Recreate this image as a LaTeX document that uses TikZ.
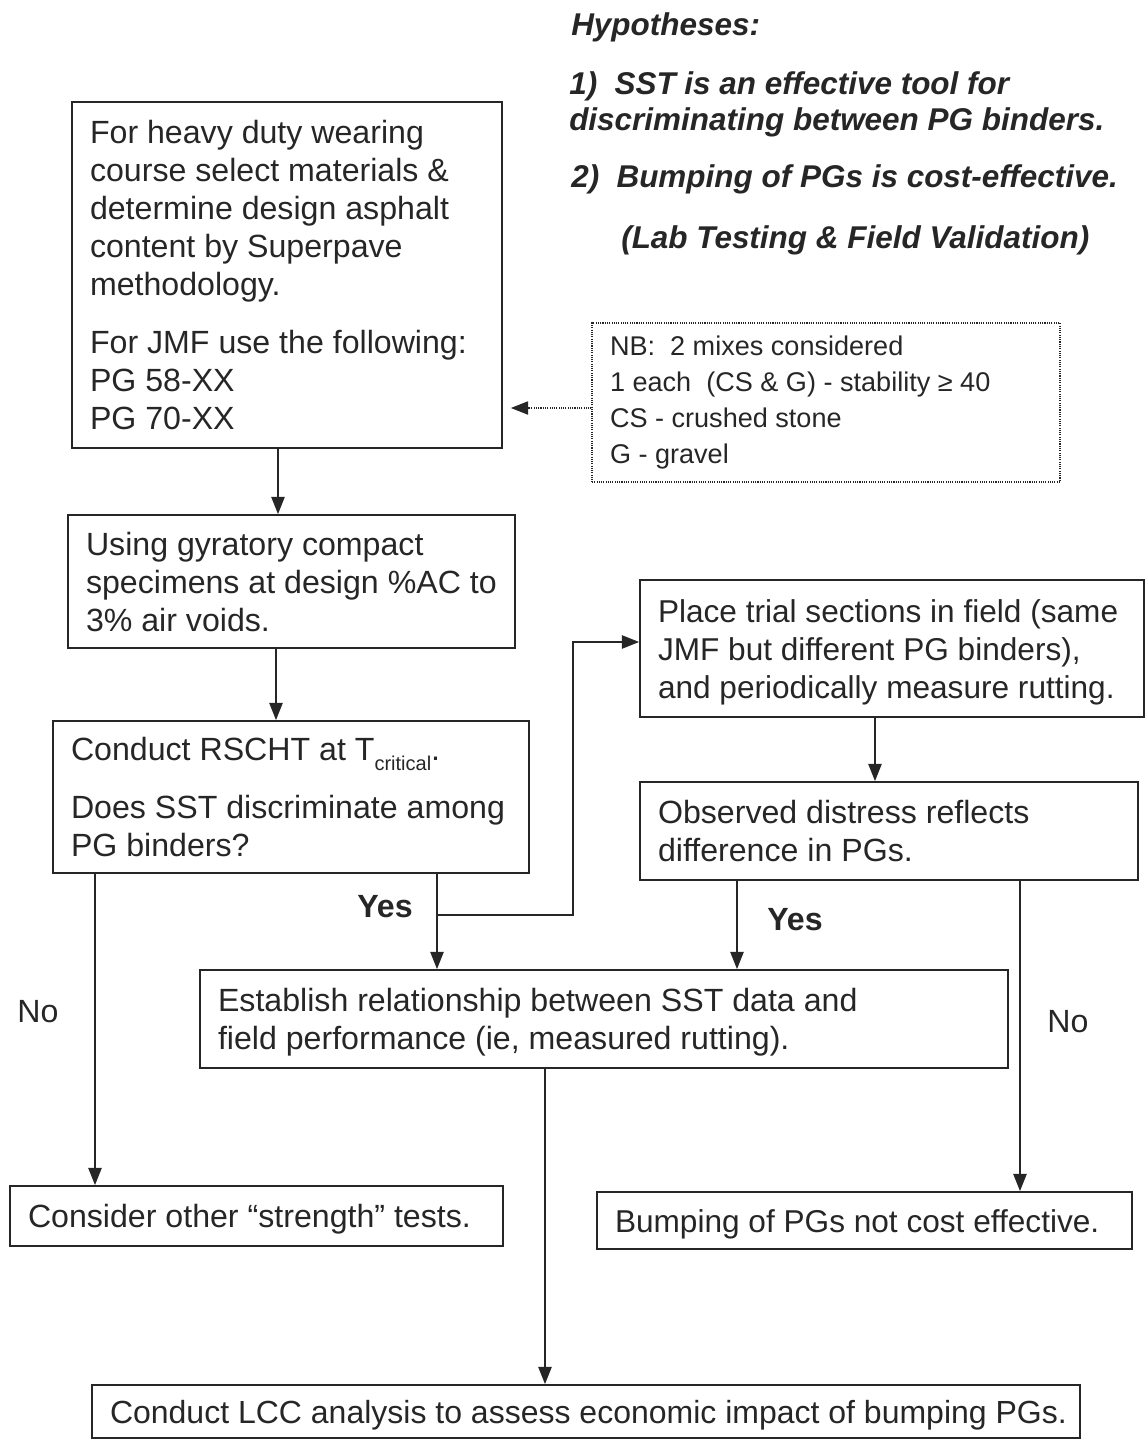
\documentclass[tikz,border=0pt]{standalone}
\usepackage{fontspec}
\setmainfont{Liberation Sans}
\usetikzlibrary{arrows.meta,calc}
\definecolor{ink}{HTML}{262626}
\newcommand\boxlines[2]{\raisebox{-3pt}[\height][\depth]{\makebox[#1][l]{\begin{tabular}{@{}l@{}}#2\end{tabular}}}}
\newcommand\nblines[2]{\makebox[#1][l]{\begin{tabular}{@{}l@{}}#2\end{tabular}}}
\begin{document}
\begin{tikzpicture}[x=0.75pt,y=-0.75pt,
  every node/.style={text=ink},
  box/.style={draw=ink, line width=1.3pt, inner xsep=13.5pt, inner ysep=0pt,
    font=\fontsize{24.1}{28.5}\selectfont},
  narrowfont/.style={font=\fontsize{23.7}{28.5}\selectfont},
  nbbox/.style={draw=ink, line width=0.9pt, dash pattern=on 0.8pt off 0.9pt,
    inner xsep=13.5pt, inner ysep=0pt, font=\fontsize{20.3}{27}\selectfont},
  arr/.style={draw=ink, line width=1.3pt, -{Triangle[length=13pt,width=10pt]}},
  lbl/.style={font=\fontsize{24.1}{28.5}\selectfont, inner sep=0pt},
  lblb/.style={font=\fontsize{24.1}{28.5}\selectfont\bfseries, inner sep=0pt},
  hyp/.style={font=\fontsize{23.6}{27}\selectfont\bfseries\itshape, inner sep=0pt, anchor=west, align=left},
]
\useasboundingbox (0,0) rectangle (1146,1439);

% hypotheses
\node[hyp] (h0) at (571,27) {Hypotheses:};
\node[hyp] (h1) at (569,104) {1)\hspace{0.55em}SST is an effective tool for\\discriminating between PG binders.};
\node[hyp] (h2) at (571,179) {2)\hspace{0.55em}Bumping of PGs is cost-effective.};
\node[hyp] (h3) at (621,240) {(Lab Testing \& Field Validation)};

% boxes
\node[box, minimum width=322.5pt, minimum height=259.5pt] (heavy) at (287,275)
  {\boxlines{295.5pt}{For heavy duty wearing\\course select materials \&\\determine design asphalt\\content by Superpave\\methodology.\\[15pt]For JMF use the following:\\PG 58-XX\\PG 70-XX}};
\node[nbbox, minimum width=351pt, minimum height=119.25pt] (nb) at (826,402.5)
  {\nblines{324pt}{NB:\ \ 2 mixes considered\\1 each\ \ (CS \& G) - stability ≥ 40\\CS - crushed stone\\G - gravel}};
\node[box, minimum width=335.25pt, minimum height=99.75pt] (gyr) at (291.5,581.5)
  {\boxlines{308.25pt}{Using gyratory compact\\specimens at design \%AC to\\3\% air voids.}};
\node[box, minimum width=357pt, minimum height=114pt] (rscht) at (291,797)
  {\boxlines{330pt}{Conduct RSCHT at T\raisebox{-7.5pt}{\fontsize{15}{15}\selectfont critical}.\\[15pt]Does SST discriminate among\\PG binders?}};
\node[box, narrowfont, minimum width=378pt, minimum height=102.75pt] (place) at (892,648.5)
  {\boxlines{351pt}{Place trial sections in field (same\\JMF but different PG binders),\\and periodically measure rutting.}};
\node[box, minimum width=373.5pt, minimum height=73.5pt] (observed) at (889,831)
  {\boxlines{346.5pt}{Observed distress reflects\\difference in PGs.}};
\node[box, minimum width=606pt, minimum height=73.5pt] (establish) at (604,1019)
  {\boxlines{579pt}{Establish relationship between SST data and\\field performance (ie, measured rutting).}};
\node[box, minimum width=369.75pt, minimum height=45pt] (consider) at (256.5,1216)
  {\boxlines{342.75pt}{Consider other “strength” tests.}};
\node[box, narrowfont, minimum width=401.25pt, minimum height=42.75pt] (bumping) at (864.5,1220.5)
  {\boxlines{374.25pt}{Bumping of PGs not cost effective.}};
\node[box, font=\fontsize{24}{28.5}\selectfont, minimum width=741pt, minimum height=39.75pt] (lcc) at (586,1411.5)
  {\boxlines{714pt}{Conduct LCC analysis to assess economic impact of bumping PGs.}};

% labels
\node[lbl] (no1) at (38,1012) {No};
\node[lblb] (yes1) at (385,907) {Yes};
\node[lblb] (yes2) at (795,920) {Yes};
\node[lbl] (no2) at (1068,1022) {No};

% connector x positions
\coordinate (xa) at (278,0);
\coordinate (xb) at (276,0);
\coordinate (xc) at (95,0);
\coordinate (xd) at (437,0);
\coordinate (xe) at (875,0);
\coordinate (xf) at (737,0);
\coordinate (xg) at (1020,0);
\coordinate (xh) at (545,0);
\coordinate (br) at (437,915);
\coordinate (up) at (573,642);
\coordinate (ny) at (0,408);

\draw[arr] (heavy.south -| xa) -- (gyr.north -| xa);
\draw[arr] (gyr.south -| xb) -- (rscht.north -| xb);
\draw[arr] (rscht.south -| xc) -- (consider.north -| xc);
\draw[arr] (rscht.south -| xd) -- (establish.north -| xd);
\draw[arr] (br) -| (up) -- (place.west |- up);
\draw[arr] (place.south -| xe) -- (observed.north -| xe);
\draw[arr] (observed.south -| xf) -- (establish.north -| xf);
\draw[arr] (observed.south -| xg) -- (bumping.north -| xg);
\draw[arr] (establish.south -| xh) -- (lcc.north -| xh);
\draw[arr, line width=0.9pt, dash pattern=on 0.8pt off 0.9pt] (nb.west |- ny) -- ($(heavy.east |- ny)+(8,0)$);
\end{tikzpicture}
\end{document}
